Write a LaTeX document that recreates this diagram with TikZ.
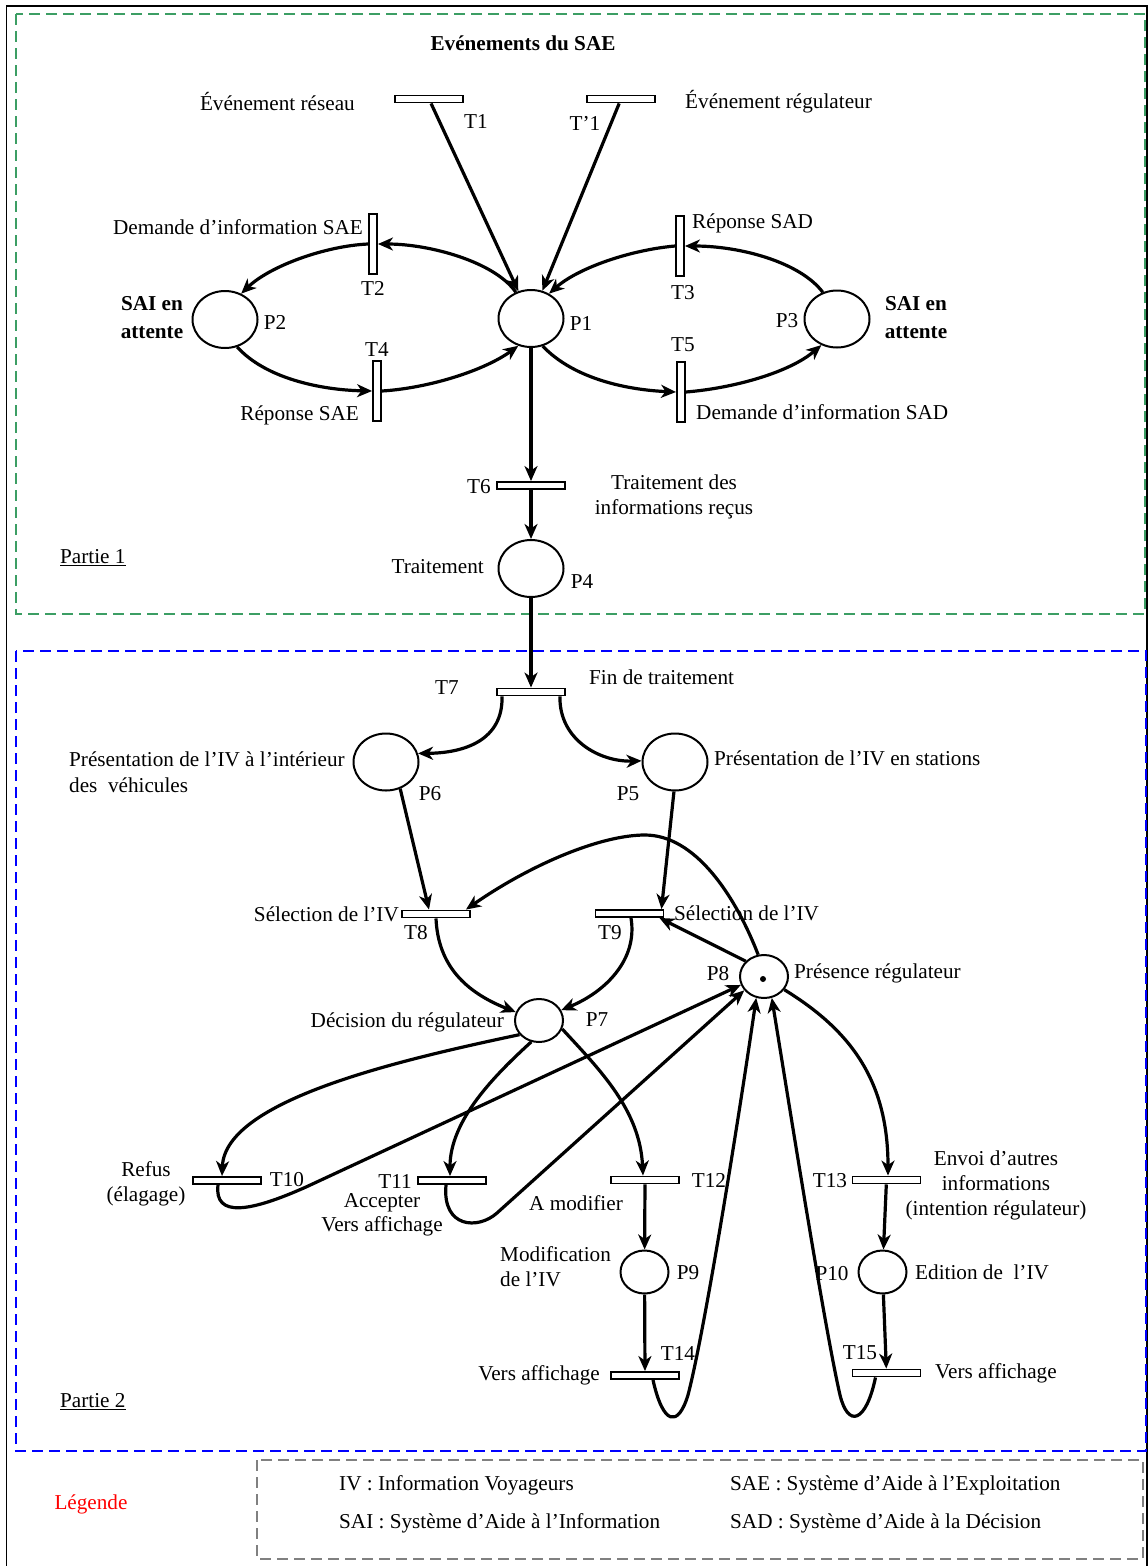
\documentclass[tikz,border=0pt]{standalone}
\usepackage{fontspec}
\setmainfont{Liberation Serif}
\usetikzlibrary{arrows.meta,shapes.geometric}
\definecolor{pgreen}{RGB}{60,158,100}
\definecolor{pblue}{RGB}{0,0,255}
\definecolor{pgray}{RGB}{128,128,128}
\begin{document}
\begin{tikzpicture}[x=1pt,y=-1pt,
  every node/.style={font=\fontsize{21.2}{25}\selectfont},
  place/.style={ellipse,draw,line width=2pt,minimum width=65pt,minimum height=57pt,inner sep=0pt},
  splace/.style={place,minimum width=48pt,minimum height=43pt},
  hbar/.style={draw,fill=white,line width=1.9pt,minimum width=68pt,minimum height=7pt,inner sep=0pt},
  vbar/.style={draw,fill=white,line width=1.9pt,minimum width=8pt,minimum height=60pt,inner sep=0pt},
  arc/.style={line width=3.2pt,-{Stealth[length=15pt,width=13pt,inset=4.5pt]}},
  lbl/.style={inner sep=0pt},
  boxline/.style={line width=2.8pt,dash pattern=on 11pt off 6pt}
]
\useasboundingbox (0,0) rectangle (1148,1566);
% frames
\draw[line width=1.8pt] (6.5,1566) -- (6.5,6) -- (1147,6) -- (1147,1566);
\draw[boxline,pgreen] (16,14) rectangle (1145,614);
\draw[boxline,pblue] (16,651) rectangle (1146,1451);
\draw[boxline,pgray] (257,1460) rectangle (1143,1559);

% transitions and places
\node[hbar] (T1) at (429,99) {};
\node[hbar] (T1p) at (621,99) {};
\node[vbar] (T2) at (373,244) {};
\node[vbar] (T3) at (680,246) {};
\node[vbar] (T4) at (377,391) {};
\node[vbar] (T5) at (681,392) {};
\node[place] (P1) at (531,318.5) {};
\node[place] (P2) at (225,319.5) {};
\node[place] (P3) at (837,319) {};
\node[hbar] (T6) at (531,485.5) {};
\node[place] (P4) at (531,568.5) {};
\node[hbar] (T7) at (531,692) {};
\node[place] (P6) at (386,762) {};
\node[place] (P5) at (675,762) {};
\node[hbar] (T8) at (436,914) {};
\node[hbar] (T9) at (629.5,913.5) {};
\node[splace] (P7) at (539,1020.5) {};
\node[splace] (P8) at (764,976.5) {};
\node[circle,fill,inner sep=0pt,minimum size=6pt] (tok) at (763,979) {};
\node[hbar] (T10) at (227,1180.5) {};
\node[hbar] (T11) at (452,1180.5) {};
\node[hbar] (T12) at (645,1180) {};
\node[hbar] (T13) at (886.5,1180) {};
\node[splace] (P9) at (644.5,1272) {};
\node[splace] (P10) at (882.5,1272) {};
\node[hbar] (T14) at (645,1375.5) {};
\node[hbar] (T15) at (886.5,1373) {};

% arcs
\draw[arc] (T1) -- (P1);
\draw[arc] (T1p) -- (P1);
\draw[arc] (P1.120) .. controls (495,262) and (430,244) .. (T2.east);
\draw[arc] (T2.west) .. controls (325,246) and (270,266) .. (P2.58);
\draw[arc] (P2.-66) .. controls (265,378) and (320,390) .. (T4.west);
\draw[arc] (T4.east) .. controls (430,388) and (485,370) .. (P1.245);
\draw[arc] (P3.118) .. controls (800,262) and (740,246) .. (T3.east);
\draw[arc] (T3.west) .. controls (630,250) and (578,268) .. (P1.54);
\draw[arc] (P1.-67) .. controls (575,380) and (630,390) .. (T5.west);
\draw[arc] (T5.east) .. controls (735,388) and (790,372) .. (P3.-121);
\draw[arc] (P1) -- (T6);
\draw[arc] (T6) -- (P4);
\draw[arc] (P4) -- (T7);
\draw[arc] ([xshift=6pt]T7.south west) .. controls (503,740) and (465,753) .. (P6.15);
\draw[arc] ([xshift=-6pt]T7.south east) .. controls (559,740) and (600,762) .. (P5.178);
\draw[arc] (P6.-62) -- ([xshift=-7pt]T8.north);
\draw[arc] (P5.-92) -- ([xshift=-3pt]T9.north east);
\draw[arc] (P8.105) .. controls (735,895) and (695,835) .. (645,835) .. controls (600,835) and (530,865) .. ([xshift=-5pt]T8.north east);
\draw[arc] (P8.140) -- ([xshift=-5pt]T9.south east);
\draw[arc] (T8.south) .. controls (438,965) and (465,992) .. (P7.160);
\draw[arc] ([xshift=1.5pt]T9.south) .. controls (638,960) and (605,992) .. (P7.25);
\draw[arc] (P7.216) .. controls (400,1060) and (225,1100) .. ([xshift=-5pt]T10.north);
\draw[arc] ([xshift=-9pt]T10.south) .. controls (214,1218) and (250,1212) .. (306,1187) -- (P8.200);
\draw[arc] (P7.250) .. controls (495,1075) and (450,1120) .. ([xshift=-2pt]T11.north);
\draw[arc] ([xshift=-6pt]T11.south) .. controls (442,1228) and (478,1230) .. (497,1213) -- (P8.215);
\draw[arc] (P7.340) .. controls (600,1070) and (640,1110) .. ([xshift=-2pt]T12.north);
\draw[arc] (T12) -- (P9);
\draw[arc] (P9) -- (T14);
\draw[arc] ([xshift=8pt]T14.south) .. controls (663,1425) and (678,1428) .. (688,1395) .. controls (705,1330) and (740,1110) .. (P8.250);
\draw[arc] (P8.327) .. controls (850,1030) and (888,1080) .. ([xshift=1.5pt]T13.north);
\draw[arc] (T13) -- (P10);
\draw[arc] (P10) -- (T15);
\draw[arc] ([xshift=-11pt]T15.south) .. controls (866,1423) and (848,1428) .. (840,1395) .. controls (825,1330) and (790,1110) .. (P8.290);

% labels part 1
\node[lbl,font=\fontsize{21.2}{25}\selectfont\bfseries] (title) at (523,43) {Evénements du SAE};
\node[lbl,anchor=east] (lT1a) at (355,102) {Événement réseau};
\node[lbl] (lT1) at (476,122) {T1};
\node[lbl] (lT1p) at (585,123) {T’1};
\node[lbl,anchor=west] (lT1pa) at (685,102) {Événement régulateur};
\node[lbl,anchor=east] (lT2a) at (363,227) {Demande d’information SAE};
\node[lbl] (lT2) at (373,288) {T2};
\node[lbl,align=center,font=\fontsize{21.2}{28}\selectfont\bfseries] (lP2a) at (152,318) {SAI en\\attente};
\node[lbl] (lP2) at (275,322) {P2};
\node[lbl] (lP1) at (581,323) {P1};
\node[lbl] (lT4) at (377,350) {T4};
\node[lbl,anchor=east] (lT4a) at (359,415) {Réponse SAE};
\node[lbl] (lT3) at (683,293) {T3};
\node[lbl,anchor=west] (lT3a) at (692,223) {Réponse SAD};
\node[lbl] (lP3) at (787,321) {P3};
\node[lbl,align=center,font=\fontsize{21.2}{28}\selectfont\bfseries] (lP3a) at (916,318) {SAI en\\attente};
\node[lbl] (lT5) at (683,345) {T5};
\node[lbl,anchor=west] (lT5a) at (696,412) {Demande d’information SAD};
\node[lbl] (lT6) at (479,487) {T6};
\node[lbl,align=center] (lT6a) at (674,497) {Traitement des\\informations reçus};
\node[lbl,anchor=east] (lP4a) at (484,567) {Traitement};
\node[lbl] (lP4) at (582,582) {P4};
\node[lbl,anchor=west] (part1) at (60,558) {\underline{Partie 1}};

% labels part 2
\node[lbl] (lT7) at (447,688) {T7};
\node[lbl,anchor=west] (lT7a) at (589,677) {Fin de traitement};
\node[lbl,anchor=west,align=left,font=\fontsize{21.2}{26}\selectfont] (lP6a) at (69,772) {Présentation de l’IV à l’intérieur\\des~ véhicules};
\node[lbl] (lP6) at (430,794) {P6};
\node[lbl] (lP5) at (628,794) {P5};
\node[lbl,anchor=west] (lP5a) at (714,758) {Présentation de l’IV en stations};
\node[lbl,anchor=east] (lT8a) at (399,914) {Sélection de l’IV};
\node[lbl] (lT8) at (416,933) {T8};
\node[lbl] (lT9) at (610,933) {T9};
\node[lbl,anchor=west] (lT9a) at (674,913) {Sélection de l’IV};
\node[lbl] (lP8) at (718,974) {P8};
\node[lbl,anchor=west] (lP8a) at (794,973) {Présence régulateur};
\node[lbl,anchor=east] (lP7a) at (504,1022) {Décision du régulateur};
\node[lbl] (lP7) at (597,1020) {P7};
\node[lbl,align=center] (lT10a) at (146,1184) {Refus\\(élagage)};
\node[lbl] (lT10) at (287,1180) {T10};
\node[lbl] (lT11) at (395,1181) {T11};
\node[lbl,align=center,font=\fontsize{21.2}{24}\selectfont] (lT11a) at (382,1215) {Accepter\\Vers affichage};
\node[lbl] (lT12) at (709,1180) {T12};
\node[lbl] (lT12a) at (576,1203) {A modifier};
\node[lbl] (lT13) at (830,1181) {T13};
\node[lbl,align=center] (lT13a) at (996,1185) {Envoi d’autres\\informations\\(intention régulateur)};
\node[lbl,anchor=west,align=left] (lP9a) at (500,1267) {Modification\\de l’IV};
\node[lbl] (lP9) at (688,1273) {P9};
\node[lbl] (lP10) at (832,1274) {P10};
\node[lbl,anchor=west] (lP10a) at (915,1272) {Edition de~ l’IV};
\node[lbl] (lT14) at (678,1353) {T14};
\node[lbl] (lT15) at (860,1353) {T15};
\node[lbl,anchor=east] (lT14a) at (600,1375) {Vers affichage};
\node[lbl,anchor=west] (lT15a) at (935,1373) {Vers affichage};
\node[lbl,anchor=west] (part2) at (60,1402) {\underline{Partie 2}};

% legend
\node[lbl,text=red] (leg) at (91,1504) {Légende};
\node[lbl,anchor=west] (leg1) at (339,1485) {IV : Information Voyageurs};
\node[lbl,anchor=west] (leg2) at (339,1523) {SAI : Système d’Aide à l’Information};
\node[lbl,anchor=west] (leg3) at (730,1485) {SAE : Système d’Aide à l’Exploitation};
\node[lbl,anchor=west] (leg4) at (730,1523) {SAD : Système d’Aide à la Décision};
\end{tikzpicture}
\end{document}
